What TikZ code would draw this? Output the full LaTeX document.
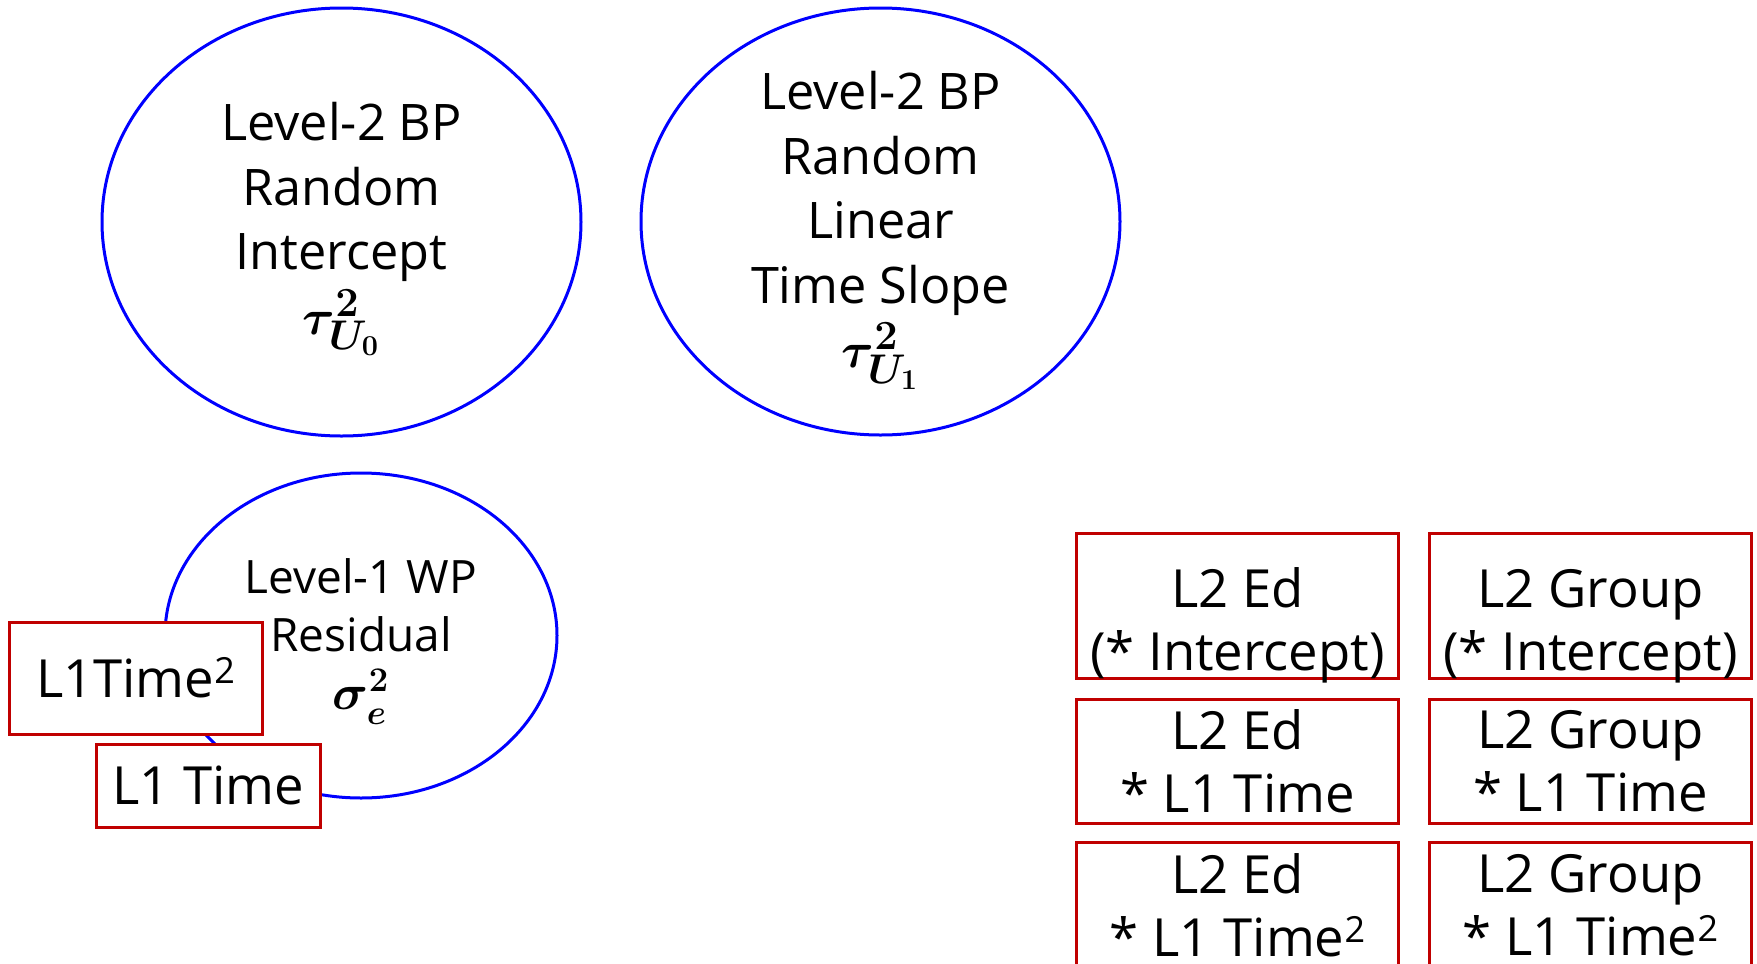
\documentclass[tikz,border=0pt]{standalone}
\usepackage{fontspec}
\setmainfont{Open Sans}
\usetikzlibrary{shapes.geometric,positioning}
\definecolor{varblue}{RGB}{0,0,255}
\definecolor{predred}{RGB}{192,0,0}
\newcommand{\sqsup}{\raisebox{7pt}{\fontsize{18}{18}\selectfont 2}}
\newcommand{\lowline}[1]{\raisebox{0pt}[\height][0pt]{#1}}

\begin{document}
\begin{tikzpicture}[x=0.5pt, y=-0.5pt,
  varellipse/.style={ellipse, draw=varblue, line width=1.5pt, inner sep=0pt},
  vartext/.style={align=center, inner sep=0pt, font=\fontsize{25.2}{32.25}\selectfont},
  predbox/.style={rectangle, draw=predred, line width=1.5pt, fill=white, align=center,
    inner sep=0pt, minimum width=161pt, font=\fontsize{26.3}{31.5}\selectfont}]
\useasboundingbox (0,0) rectangle (1757,964);
% Variance components
\node [varellipse, minimum width=239.5pt, minimum height=214pt] (rint) at (341.5,222) {};
\node [varellipse, minimum width=239.5pt, minimum height=213.5pt] (rslope) at (880.5,221.5) {};
\node [varellipse, minimum width=196pt, minimum height=162.5pt] (resid) at (361,635.5) {};
\node [vartext, yshift=-3.5pt] (rinttxt) at (rint)
  {Level-2 BP\\Random\\Intercept\\{\fontsize{29}{34}\selectfont\boldmath$\tau^{2}_{U_0}$}};
\node [vartext, yshift=-4.5pt] (rslopetxt) at (rslope)
  {Level-2 BP\\Random\\Linear\\Time Slope\\{\fontsize{29}{34}\selectfont\boldmath$\tau^{2}_{U_1}$}};
\node [vartext, yshift=-3pt, font=\fontsize{23}{29}\selectfont] (residtxt) at (resid)
  {Level-1 WP\\Residual\\{\fontsize{25}{29}\selectfont\boldmath$\sigma^{2}_{e}$}};
% Level-1 predictors
\node [predbox, minimum width=126.5pt, minimum height=56pt] (sqtime) at (135.5,678) {L1Time\sqsup};
\node [predbox, minimum width=112pt, minimum height=41.5pt] (lintime) at (208,785.5) {L1 Time};
% Level-2 predictors
\node [predbox, minimum height=72.5pt] (edint) at (1237.5,605.5)
  {\rule{0pt}{33pt}L2 Ed\\\lowline{(* Intercept)}};
\node [predbox, minimum height=72.5pt] (grpint) [right=14pt of edint]
  {\rule{0pt}{33pt}L2 Group\\\lowline{(* Intercept)}};
\node [predbox, minimum height=62pt] (edlin) [below=9pt of edint] {L2 Ed\\* L1 Time};
\node [predbox, minimum height=62pt] (grplin) [below=9pt of grpint] {L2 Group\\* L1 Time};
\node [predbox, minimum height=63pt] (edquad) [below=8pt of edlin] {L2 Ed\\* L1 Time\sqsup};
\node [predbox, minimum height=63pt] (grpquad) [below=8pt of grplin] {L2 Group\\* L1 Time\sqsup};
\end{tikzpicture}
\end{document}
